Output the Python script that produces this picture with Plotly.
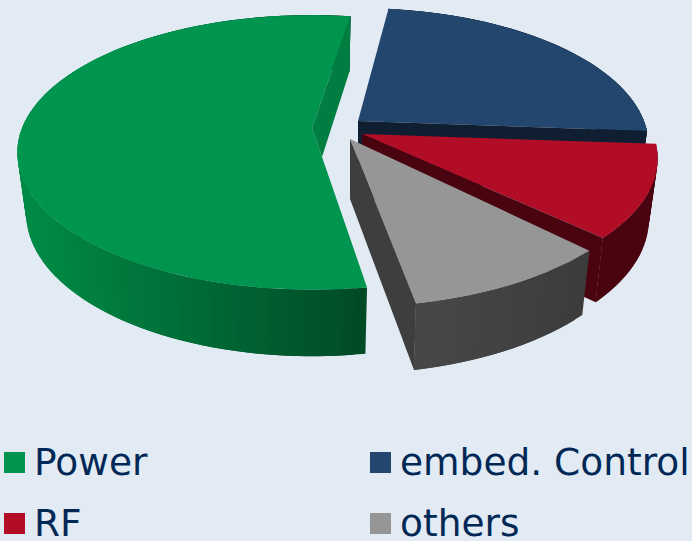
import math
import plotly.graph_objects as go

# Data
categories = ["Power", "embed. Control", "RF", "others"]
shares = [55, 24, 11, 10]

# Styling
top_colors = ["#00954F", "#22466E", "#B20D27", "#969696"]
cut_colors = ["#007D40", "#0F1E30", "#4A0410", "#3E3E3E"]
rim_left = [(0, 138, 69), (15, 30, 48), (74, 4, 16), (72, 72, 72)]
rim_right = [(0, 74, 38), (15, 30, 48), (74, 4, 16), (60, 60, 60)]
apexes = [(312, 128), (358, 121), (362, 134), (350, 139)]
# per-slice perspective correction (explosion moves each slice nearer or farther)
slice_rx = [290, 286, 291, 296]
slice_ry = [133, 133, 133, 138]
nudge_start = [0, 1.8, 1.2, 0]
nudge_end = [0, 1.1, 1.6, 1.6]
BACKGROUND = "#E2EBF3"
TEXT = "#002856"
START_ANGLE = -81
PERSP = 0.178
X_SHRINK, Y_GROW, DEPTH = 0.97, 1.04, 60
legend_x = [14.5, 380.5, 14.5, 380.5]
legend_text_x = [32, 398, 32, 398]
legend_y = [462.5, 462.5, 523.5, 523.5]


def top_point(i, deg):
    t = math.radians(deg)
    w = 1 + PERSP * math.sin(t)
    return apexes[i][0] + slice_rx[i] * math.cos(t) / w, apexes[i][1] - slice_ry[i] * math.sin(t) / w


def base_point(apex, p):
    return apex[0] + X_SHRINK * (p[0] - apex[0]), apex[1] + Y_GROW * (p[1] - apex[1]) + DEPTH


def intersect(a, b, c, d):
    den = (b[0] - a[0]) * (d[1] - c[1]) - (b[1] - a[1]) * (d[0] - c[0])
    u = ((c[0] - a[0]) * (d[1] - c[1]) - (c[1] - a[1]) * (d[0] - c[0])) / den
    return a[0] + u * (b[0] - a[0]), a[1] + u * (b[1] - a[1])


def poly(fig, pts, color, name):
    xs = [p[0] for p in pts] + [pts[0][0]]
    ys = [p[1] for p in pts] + [pts[0][1]]
    fig.add_trace(go.Scatter(x=xs, y=ys, mode="lines", fill="toself", fillcolor=color,
                             line=dict(width=0), name=name,
                             hoverinfo="skip", showlegend=False))


fig = go.Figure()

# angular span of every slice, clockwise from the start angle
spans = []
angle = START_ANGLE
for v in shares:
    end = angle - v / sum(shares) * 360
    spans.append((angle, end))
    angle = end

for i in [1, 2, 3, 0]:
    a0, a1 = spans[i][0] + nudge_start[i], spans[i][1] + nudge_end[i]
    apex = apexes[i]
    n = max(2, int(abs(a1 - a0) * 2))
    arc = [a0 + (a1 - a0) * k / n for k in range(n + 1)]
    rim = [top_point(i, d) for d in arc]
    low = [base_point(apex, p) for p in rim]
    xmin, xmax = (28, 366) if i == 0 else (413, 586)
    # outer wall, shaded in overlapping strips painted in sequence
    step = 4
    for k in range(0, n, step):
        j = min(k + step, n)
        jj = min(k + 2 * step, n)
        strip = rim[k:jj + 1] + low[k:jj + 1][::-1]
        f = min(1, max(0, ((rim[k][0] + rim[j][0]) / 2 - xmin) / (xmax - xmin)))
        c = tuple(round(rim_left[i][m] + (rim_right[i][m] - rim_left[i][m]) * f) for m in range(3))
        poly(fig, strip, "rgb(%d,%d,%d)" % c, categories[i] + " wall")
    # top face
    poly(fig, [apex] + rim, top_colors[i], categories[i])
    # cut face at the clockwise end of the slice
    base_apex = base_point(apex, apex)
    if i == 0:
        cross = intersect(base_apex, low[-1], apex, rim[0])
        cut = [apex, rim[-1], low[-1], cross]
    else:
        cut = [apex, rim[-1], low[-1], base_apex]
    poly(fig, cut, cut_colors[i], categories[i] + " cut")

# key
for i, cat in enumerate(categories):
    fig.add_trace(go.Scatter(x=[legend_x[i]], y=[legend_y[i]], mode="markers", name=cat,
                             marker=dict(symbol="square", size=21, color=top_colors[i], line=dict(width=0)),
                             hoverinfo="skip", showlegend=False))
    fig.add_annotation(x=legend_text_x[i], y=legend_y[i] - 1, text=cat, showarrow=False,
                       xanchor="left", yanchor="middle", xref="x", yref="y",
                       font=dict(family="DejaVu Sans", size=37.5, color=TEXT))

fig.update_layout(
    width=692, height=541, margin=dict(l=0, r=0, t=0, b=0),
    paper_bgcolor=BACKGROUND, plot_bgcolor=BACKGROUND, showlegend=False,
    xaxis=dict(range=[0, 692], visible=False, fixedrange=True),
    yaxis=dict(range=[541, 0], visible=False, fixedrange=True),
)
fig.write_html("out.html", config={"displayModeBar": False},
               post_script="document.body.style.margin='0';document.body.style.background='%s';" % BACKGROUND)
